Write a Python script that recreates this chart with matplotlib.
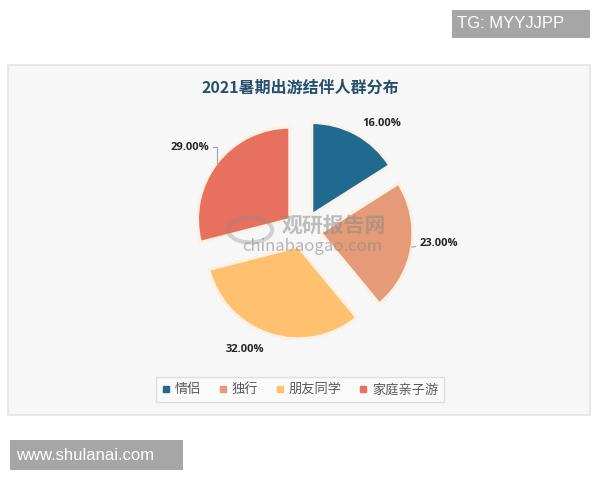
import matplotlib
matplotlib.use('Agg')
import numpy as np
import matplotlib.pyplot as plt
from matplotlib.patches import Rectangle, Ellipse
from matplotlib.lines import Line2D

plt.rcParams['font.family'] = ['Noto Sans CJK SC', 'DejaVu Sans']

# data
title = '2021暑期出游结伴人群分布'
categories = ['情侣', '独行', '朋友同学', '家庭亲子游']
shares = [16.00, 23.00, 32.00, 29.00]
colors = ['#1F6A8E', '#E59A78', '#FFC170', '#E8705E']


def create_pie(out='out.png'):
    fig = plt.figure(figsize=(6, 4.8), dpi=100, facecolor='white')

    # light panel behind the chart
    fig.patches.append(Rectangle((0.013, 0.135), 0.970, 0.729, transform=fig.transFigure,
                                 facecolor='#F7F7F7', edgecolor='#E4E4E4', lw=1.2, zorder=-5))

    # pie area: 300x300 px centred near (303, 230), radius ~92 px
    ax = fig.add_axes([0.2558, 0.2083, 0.5, 0.625])
    ax.set_facecolor('none')
    ax.set_zorder(2)
    explode = 0.19
    wedges, _ = ax.pie(shares, colors=colors, startangle=90, counterclock=False,
                       explode=[explode] * len(shares),
                       wedgeprops=dict(edgecolor='#FBF1E4', linewidth=2))
    ax.set_xlim(-1.63, 1.63)
    ax.set_ylim(-1.63, 1.63)
    ax.set_aspect('equal')
    ax.axis('off')

    # data labels, nudged around the slice like the excel layout
    nudge = [-7.5, 3.5, -8, 1.8]      # degrees from mid angle
    dist = [1.44, 1.48, 1.45, 1.53]   # from pie centre, in radii
    leader = [False, True, False, True]
    for w, v, dth, r, ld in zip(wedges, shares, nudge, dist, leader):
        mid = np.deg2rad((w.theta1 + w.theta2) / 2)
        th = mid + np.deg2rad(dth)
        pos = (r * np.cos(th), r * np.sin(th))
        cx, cy = w.center
        arc = (cx + np.cos(mid), cy + np.sin(mid))
        arrow = None
        if ld:
            arrow = dict(arrowstyle='-', color='#A0A0A0', lw=0.8, shrinkA=1, shrinkB=0,
                         connectionstyle='angle,angleA=0,angleB=90' if pos[0] < 0 else 'arc3')
        ax.annotate(f'{v:.2f}%', xy=arc, xytext=pos, ha='center', va='center',
                    fontsize=8, fontweight='bold', color='#262626',
                    family=['Open Sans', 'DejaVu Sans'], arrowprops=arrow)

    # faint site watermark
    ax.add_patch(Ellipse((-0.58, 0.0), 0.48, 0.27, fill=False, edgecolor='#8C8C8C',
                         lw=3, alpha=0.35, zorder=5))
    ax.text(0.33, 0.05, '观研报告网', fontsize=15, fontweight='bold', color='#8C8C8C',
            alpha=0.55, ha='center', va='center', zorder=5)
    ax.text(0.10, -0.18, 'chinabaogao.com', fontsize=12, color='#8C8C8C', alpha=0.6,
            ha='center', va='center', zorder=5)

    fig.text(0.5, 0.817, title, fontsize=11.5, fontweight='bold', color='#24506B',
             ha='center', va='center')

    # legend
    handles = [Line2D([], [], marker='s', linestyle='', markersize=4, color=c) for c in colors]
    leg = fig.legend(handles, categories, loc='center', bbox_to_anchor=(0.5, 0.188), ncol=4,
                     frameon=True, fancybox=False, fontsize=9.5, handlelength=0.7,
                     handletextpad=0.3, columnspacing=1.3, borderpad=0.45)
    leg.get_frame().set_edgecolor('#D9D9D9')
    leg.get_frame().set_facecolor('#FBFBFB')
    for t in leg.get_texts():
        t.set_color('#595959')

    # grey stamps
    fig.patches.append(Rectangle((452 / 600, 1 - 38 / 480), 138 / 600, 28 / 480,
                                 transform=fig.transFigure, facecolor='#A6A6A6', lw=0))
    fig.text(457 / 600, 1 - 24 / 480, 'TG: MYYJJPP', fontsize=12, color='white',
             family='Liberation Sans', va='center')
    fig.patches.append(Rectangle((10 / 600, 1 - 470 / 480), 173 / 600, 30 / 480,
                                 transform=fig.transFigure, facecolor='#A6A6A6', lw=0))
    fig.text(16 / 600, 1 - 455 / 480, 'www.shulanai.com', fontsize=12, color='white',
             family='Liberation Sans', va='center')

    fig.savefig(out, dpi=100, facecolor='white')


if __name__ == '__main__':
    create_pie()
